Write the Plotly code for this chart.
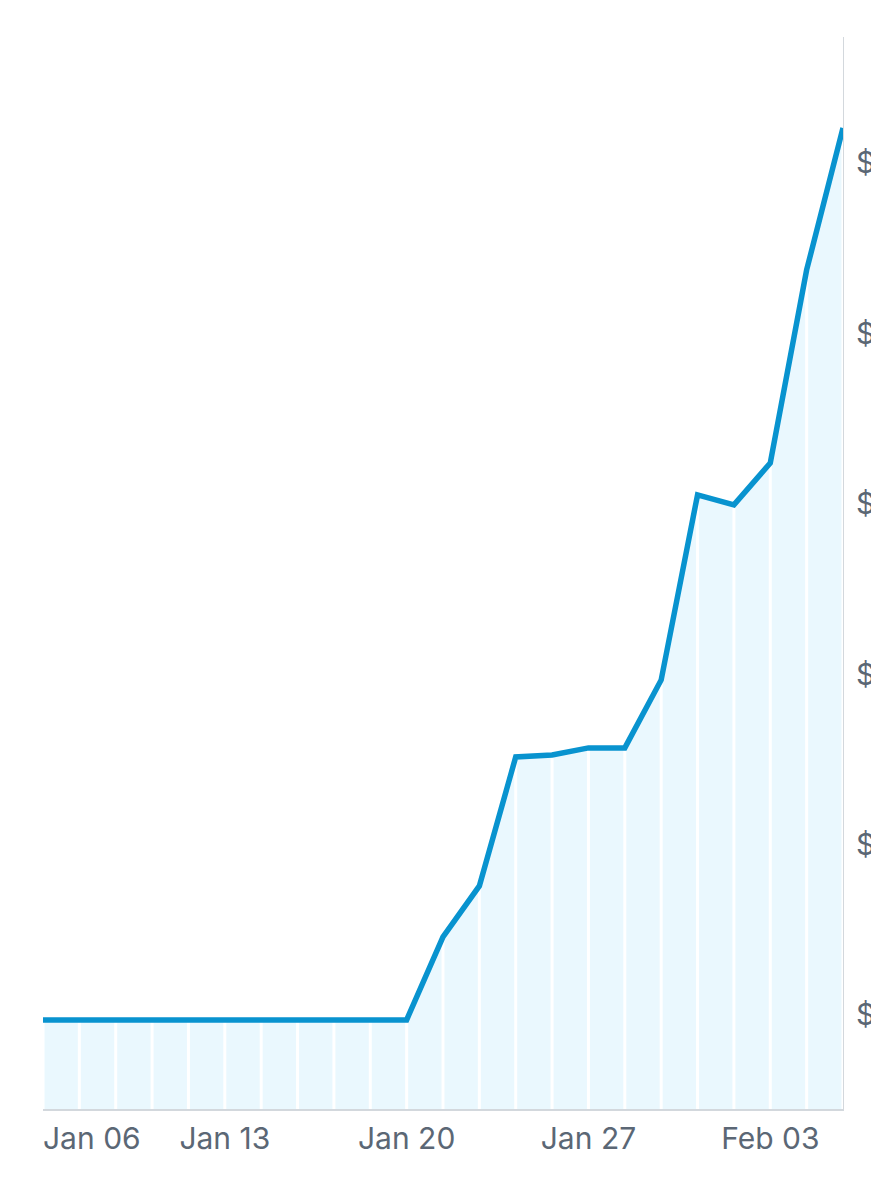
import plotly.graph_objects as go

dates = ["2020-01-06", "2020-01-07", "2020-01-08", "2020-01-09", "2020-01-10",
         "2020-01-13", "2020-01-14", "2020-01-15", "2020-01-16", "2020-01-17",
         "2020-01-20", "2020-01-21", "2020-01-22", "2020-01-23", "2020-01-24",
         "2020-01-27", "2020-01-28", "2020-01-29", "2020-01-30", "2020-01-31",
         "2020-02-03", "2020-02-04", "2020-02-05"]
values = [971, 971, 971, 971, 971, 971, 971, 971, 971, 971,
          971, 1458, 1757, 2514, 2526, 2567, 2567, 2966, 4052, 3993,
          4239, 5372, 6205]
x_tick_vals = ["2020-01-06", "2020-01-13", "2020-01-20", "2020-01-27", "2020-02-03"]
x_tick_text = ["Jan 06", "Jan 13", "Jan 20", "Jan 27", "Feb 03"]
y_tick_vals = [1000, 2000, 3000, 4000, 5000, 6000]
y_tick_text = ["$", "$", "$", "$", "$", "$"]

LINE = "#0893cf"
FILL = "#eaf8fe"
GREY = "#5b6775"
AXIS = "#d3d8dd"
FONT = "Inter, Roboto, 'Noto Sans', sans-serif"
FSIZE = 30

fig = go.Figure()

# area fill
fig.add_trace(go.Scatter(x=dates, y=values, mode="lines", line=dict(width=0, color=FILL),
                         fill="tozeroy", fillcolor=FILL, hoverinfo="skip", showlegend=False))

# white separators between columns
sx, sy = [], []
for d, v in zip(dates, values):
    sx += [d, d, None]
    sy += [0, v, None]
fig.add_trace(go.Scatter(x=sx, y=sy, mode="lines", line=dict(color="white", width=3),
                         hoverinfo="skip", showlegend=False))

# main line
fig.add_trace(go.Scatter(x=dates, y=values, mode="lines", line=dict(color=LINE, width=5.5),
                         showlegend=False))

fig.update_layout(
    width=879, height=1200,
    margin=dict(l=35, r=35, t=29, b=99),
    paper_bgcolor="white", plot_bgcolor="white",
    font=dict(family=FONT, color=GREY, size=FSIZE),
    xaxis=dict(type="category", categoryorder="array", categoryarray=dates,
               range=[0, len(dates) - 1], showgrid=False, zeroline=False,
               showline=True, linecolor=AXIS, linewidth=2,
               tickmode="array", tickvals=x_tick_vals,
               ticktext=[""] + x_tick_text[1:], ticks="", ticklabelstandoff=2),
    yaxis=dict(side="right", range=[448, 6739], showgrid=False, zeroline=False,
               showline=True, linecolor=AXIS, linewidth=1,
               tickmode="array", tickvals=y_tick_vals, ticktext=y_tick_text,
               ticks="", ticklabelstandoff=6),
)

fig.add_annotation(x=dates[0], xref="x", y=0, yref="paper", text=x_tick_text[0],
                   showarrow=False, xanchor="left", yanchor="middle", yshift=-29, xshift=-2,
                   font=dict(family=FONT, color=GREY, size=FSIZE))

fig.write_html("out.html")
